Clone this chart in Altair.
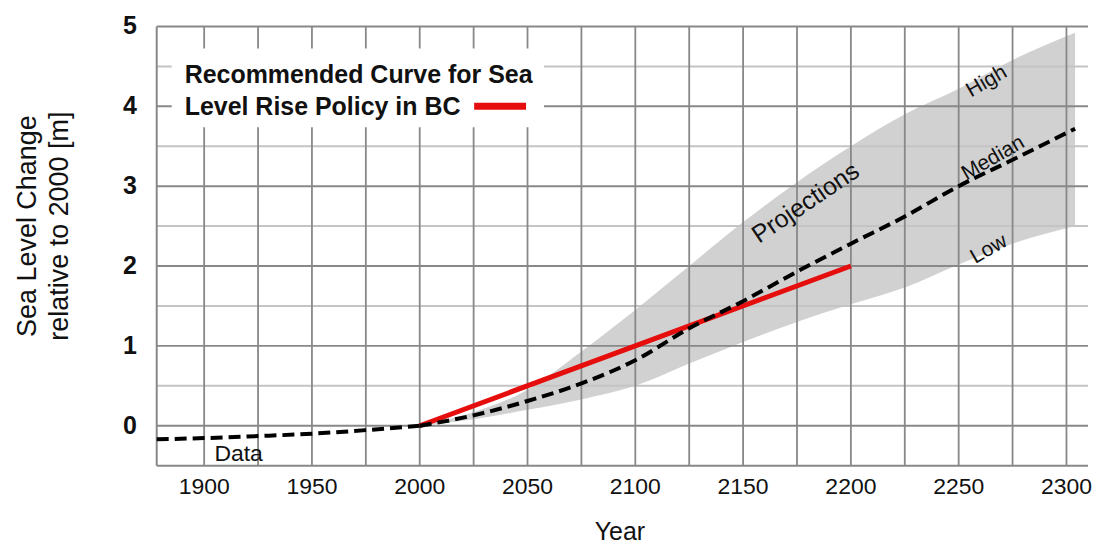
import altair as alt
import pandas as pd

# ---------------- data ----------------
data_years = [1878, 1900, 1925, 1950, 1975, 2000]
data_values = [-0.17, -0.155, -0.13, -0.10, -0.055, 0.0]

proj_years = [2000, 2025, 2050, 2075, 2100, 2125, 2150, 2175, 2200, 2225, 2250, 2275, 2304]
proj_high = [0.0, 0.17, 0.45, 0.93, 1.45, 2.0, 2.55, 3.05, 3.5, 3.9, 4.22, 4.58, 4.92]
proj_low = [0.0, 0.08, 0.2, 0.33, 0.5, 0.78, 1.05, 1.3, 1.52, 1.73, 2.02, 2.28, 2.5]
proj_median = [0.0, 0.13, 0.31, 0.53, 0.82, 1.22, 1.56, 1.93, 2.28, 2.62, 3.0, 3.33, 3.72]

policy_years = [2000, 2100, 2200]
policy_values = [0.0, 1.0, 2.0]

x_labels = [1900, 1950, 2000, 2050, 2100, 2150, 2200, 2250, 2300]
x_grid = [1900, 1925, 1950, 1975, 2000, 2025, 2050, 2075, 2100, 2125, 2150,
          2175, 2200, 2225, 2250, 2275, 2300]
y_labels = [0, 1, 2, 3, 4, 5]
y_major = [-0.5, 0, 1, 2, 3, 4, 5]
y_minor = [0.5, 1.5, 2.5, 3.5, 4.5]

ann_text = ["Data", "Projections", "High", "Median", "Low"]
ann_year = [1916, 2179, 2263, 2266, 2264]
ann_value = [-0.36, 2.79, 4.31, 3.35, 2.21]

legend_lines = ["Recommended Curve for Sea", "Level Rise Policy in BC"]
x_title = "Year"
y_title = ["Sea Level Change", "relative to 2000 [m]"]

FONT = "Liberation Sans"
INK = "#111111"
W, H = 933, 440

xs = alt.Scale(domain=[1878, 2310], nice=False, zero=False)
ys = alt.Scale(domain=[-0.5, 5], nice=False, zero=False)

df_data = pd.DataFrame({"year": data_years, "v": data_values})
df_proj = pd.DataFrame({"year": proj_years, "hi": proj_high, "lo": proj_low, "med": proj_median})
df_pol = pd.DataFrame({"year": policy_years, "v": policy_values})
df_ann = pd.DataFrame({"t": ann_text, "year": ann_year, "v": ann_value})


def X(f):
    return alt.X(f, scale=xs, axis=None)


def Y(f):
    return alt.Y(f, scale=ys, axis=None)


band = alt.Chart(df_proj).mark_area(color="#d1d1d1", interpolate="monotone").encode(
    x=X("year:Q"), y=Y("lo:Q"), y2="hi:Q")

minor = alt.Chart(pd.DataFrame({"v": y_minor})).mark_rule(color="#c4c4c4", strokeWidth=2).encode(
    y=Y("v:Q"))
vgrid = alt.Chart(pd.DataFrame({"year": x_grid})).mark_rule(color="#888888", strokeWidth=1.8).encode(
    x=X("year:Q"))
major = alt.Chart(pd.DataFrame({"v": y_major})).mark_rule(color="#888888", strokeWidth=2).encode(
    y=Y("v:Q"))
left_edge = alt.Chart(pd.DataFrame({"year": [1878]})).mark_rule(color="#888888", strokeWidth=2).encode(
    x=X("year:Q"))

legend_box = alt.Chart(alt.Data(values=[{}])).mark_rect(color="white").encode(
    x=alt.value(15), x2=alt.value(388), y=alt.value(22), y2=alt.value(101))

dash = dict(color="black", strokeWidth=4, strokeDash=[12, 6])
data_line = alt.Chart(df_data).mark_line(interpolate="monotone", **dash).encode(
    x=X("year:Q"), y=Y("v:Q"))
policy_line = alt.Chart(df_pol).mark_line(color="#e60d0d", strokeWidth=5).encode(
    x=X("year:Q"), y=Y("v:Q"))
median_line = alt.Chart(df_proj).mark_line(interpolate="monotone", **dash).encode(
    x=X("year:Q"), y=Y("med:Q"))

ann_layers = []
styles = {"Data": (0, 23), "Projections": (326, 25), "High": (330, 21),
          "Median": (330, 21), "Low": (330, 21)}
for t in ann_text:
    ang, fs = styles[t]
    ann_layers.append(
        alt.Chart(df_ann[df_ann.t == t]).mark_text(
            font=FONT, fontSize=fs, angle=ang, color=INK, align="center", baseline="middle"
        ).encode(x=X("year:Q"), y=Y("v:Q"), text="t:N")
    )

# tick labels (positioned through the scales)
xlab = alt.Chart(pd.DataFrame({"year": x_labels})).mark_text(
    font=FONT, fontSize=23, color=INK, align="center", baseline="top"
).encode(x=X("year:Q"), y=alt.value(H + 10), text=alt.Text("year:Q", format="d"))
ylab = alt.Chart(pd.DataFrame({"v": y_labels})).mark_text(
    font=FONT, fontSize=25, fontWeight="bold", color=INK, align="right", baseline="middle"
).encode(y=Y("v:Q"), x=alt.value(-20), text=alt.Text("v:Q", format="d"))

# axis titles
xt = alt.Chart(pd.DataFrame({"t": [x_title]})).mark_text(
    font=FONT, fontSize=25, color=INK, align="center", baseline="alphabetic"
).encode(x=alt.value(464), y=alt.value(H + 74), text="t:N")
yt_df = pd.DataFrame({"t": y_title, "i": [0, 1]})
yt1 = alt.Chart(yt_df[yt_df.i == 0]).mark_text(
    font=FONT, fontSize=27, color=INK, align="center", baseline="middle", angle=270
).encode(x=alt.value(-129), y=alt.value(200), text="t:N")
yt2 = alt.Chart(yt_df[yt_df.i == 1]).mark_text(
    font=FONT, fontSize=27, color=INK, align="center", baseline="middle", angle=270
).encode(x=alt.value(-97), y=alt.value(200), text="t:N")

leg_df = pd.DataFrame({"t": legend_lines, "i": [0, 1]})
leg_text1 = alt.Chart(leg_df[leg_df.i == 0]).mark_text(
    font=FONT, fontSize=25, fontWeight="bold", color=INK, align="left", baseline="alphabetic"
).encode(x=alt.value(28), y=alt.value(57), text="t:N")
leg_text2 = alt.Chart(leg_df[leg_df.i == 1]).mark_text(
    font=FONT, fontSize=25, fontWeight="bold", color=INK, align="left", baseline="alphabetic"
).encode(x=alt.value(28), y=alt.value(89), text="t:N")
leg_swatch = alt.Chart(alt.Data(values=[{}])).mark_rule(color="#e60d0d", strokeWidth=7).encode(
    x=alt.value(318), x2=alt.value(370), y=alt.value(80))

chart = alt.layer(
    band, minor, vgrid, major, left_edge, legend_box,
    data_line, policy_line, median_line, *ann_layers,
    xlab, ylab, xt, yt1, yt2,
    leg_text1, leg_text2, leg_swatch,
).properties(
    width=W, height=H,
    background="white",
    autosize=alt.AutoSizeParams(type="none"),
    padding={"left": 149, "top": 18, "right": 12, "bottom": 81},
).configure_view(strokeWidth=0)

chart.save("out.html", embed_options={"renderer": "svg", "actions": False})
